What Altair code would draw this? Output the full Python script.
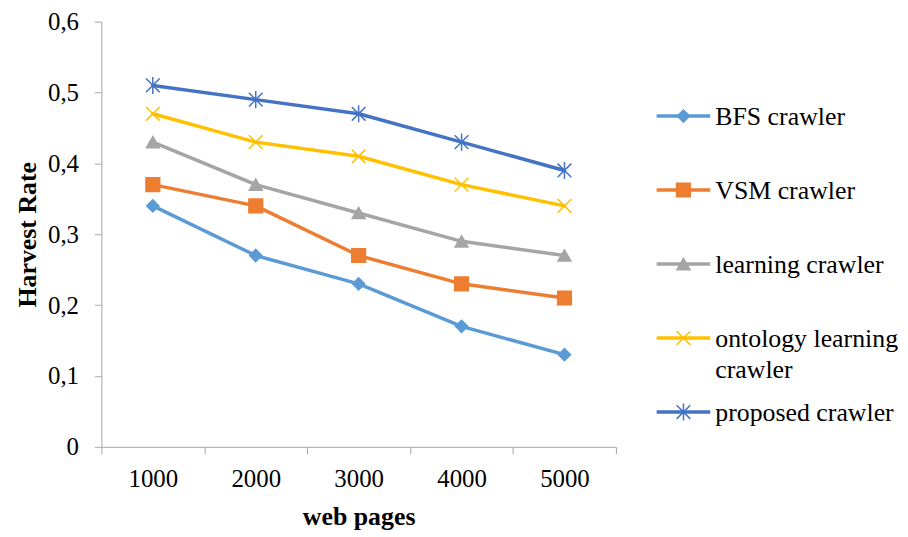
import altair as alt
import pandas as pd

# ---- data ----
pages = ["1000", "2000", "3000", "4000", "5000"]
series = ["BFS crawler", "VSM crawler", "learning crawler",
          "ontology learning crawler", "proposed crawler"]
bfs = [0.34, 0.27, 0.23, 0.17, 0.13]
vsm = [0.37, 0.34, 0.27, 0.23, 0.21]
learning = [0.43, 0.37, 0.33, 0.29, 0.27]
ontology = [0.47, 0.43, 0.41, 0.37, 0.34]
proposed = [0.51, 0.49, 0.47, 0.43, 0.39]
y_ticks = [0, 0.1, 0.2, 0.3, 0.4, 0.5, 0.6]
legend_labels = ["BFS crawler", "VSM crawler", "learning crawler",
                 "ontology learning\ncrawler", "proposed crawler"]

# ---- styles ----
colors = ["#5B9BD5", "#ED7D31", "#A5A5A5", "#FFC000", "#4472C4"]
X_PATH = "M-1,-1L1,1M-1,1L1,-1"
AST_PATH = "M-1,-1L1,1M-1,1L1,-1M0,-1.25L0,1.25"
shapes = ["diamond", "square", "triangle-up", X_PATH, AST_PATH]
sizes = [150, 190, 170, 190, 190]
FONT = "Liberation Serif"
GRAY = "#A6A6A6"

values = [bfs, vsm, learning, ontology, proposed]
rows = []
for s, vals in zip(series, values):
    for p, v in zip(pages, vals):
        rows.append({"pages": p, "value": v, "series": s})
df = pd.DataFrame(rows)

X = alt.X("pages:O", sort=pages,
          scale=alt.Scale(type="band", paddingInner=0, paddingOuter=0),
          axis=alt.Axis(title="web pages", tickBand="extent", labelAngle=0,
                        domainColor=GRAY, tickColor=GRAY, tickSize=7,
                        labelPadding=13, titlePadding=12,
                        labelFont=FONT, labelFontSize=25, labelColor="black",
                        titleFont=FONT, titleFontSize=26, titleFontWeight="bold",
                        titleColor="black"))
Y = alt.Y("value:Q",
          scale=alt.Scale(domain=[0, 0.6], nice=False),
          axis=alt.Axis(title="Harvest Rate", values=y_ticks, grid=False,
                        labelExpr="datum.value == 0 ? '0' : replace(format(datum.value, '.1f'), '.', ',')",
                        domainColor=GRAY, tickColor=GRAY, tickSize=7,
                        labelPadding=16, titlePadding=7,
                        labelFont=FONT, labelFontSize=25, labelColor="black",
                        titleFont=FONT, titleFontSize=26, titleFontWeight="bold",
                        titleColor="black"))

layers = []
for s, c in zip(series, colors):
    sub = df[df.series == s]
    layers.append(alt.Chart(sub).mark_line(color=c, strokeWidth=3.5,
                                           strokeCap="round", strokeJoin="round")
                  .encode(x=X, y=Y))
for s, c, sh, sz in zip(series, colors, shapes, sizes):
    sub = df[df.series == s]
    layers.append(alt.Chart(sub).mark_point(shape=sh, size=sz, filled=True, fill=c,
                                            stroke=c, strokeWidth=1.5, opacity=1)
                  .encode(x=X, y=Y))

main = alt.layer(*layers).properties(width=518, height=428)

# ---- legend ----
leg = pd.DataFrame({"series": series, "pos": list(range(len(series))),
                    "label": legend_labels})
LY = alt.Y("pos:Q", scale=alt.Scale(domain=[-1.275, 4.47], reverse=True,
                                     nice=False, zero=False), axis=None)
leg_layers = []
for i, (s, c, sh, sz) in enumerate(zip(series, colors, shapes, sizes)):
    sub = leg[leg.series == s]
    leg_layers.append(alt.Chart(sub).mark_rule(color=c, strokeWidth=3.5)
                      .encode(x=alt.value(40), x2=alt.value(94), y=LY))
    leg_layers.append(alt.Chart(sub).mark_point(shape=sh, size=sz, filled=True, fill=c,
                                                stroke=c, strokeWidth=1.5, opacity=1)
                      .encode(x=alt.value(67), y=LY))
leg_layers.append(alt.Chart(leg).mark_text(align="left", baseline="alphabetic", dy=9,
                                           font=FONT, fontSize=26, lineBreak="\n",
                                           lineHeight=31, color="black")
                  .encode(x=alt.value(99), y=LY, text="label:N"))
legend = alt.layer(*leg_layers).properties(width=285, height=428)

chart = alt.hconcat(main, legend, spacing=0).properties(
    padding={"left": 6, "top": 0, "right": 0, "bottom": 0}
).configure_view(stroke=None)

chart.save("out.html", embed_options={"renderer": "svg", "actions": False})
